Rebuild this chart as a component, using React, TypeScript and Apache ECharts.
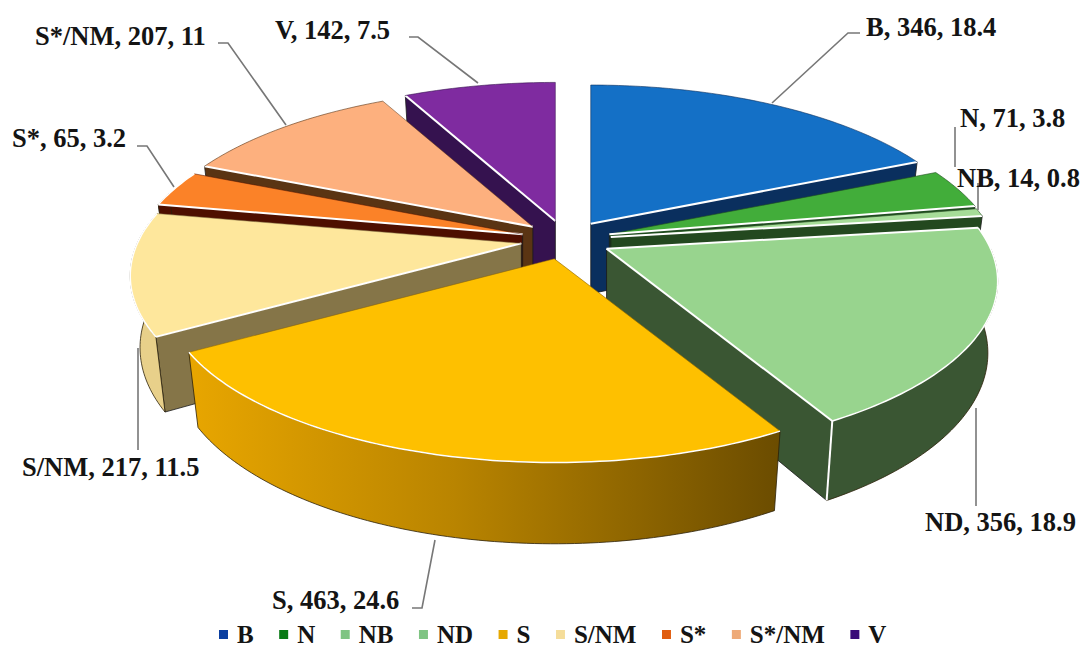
import React, { useEffect, useRef } from "react";
import * as echarts from "echarts";

const categories = ["B", "N", "NB", "ND", "S", "S/NM", "S*", "S*/NM", "V"];
const counts = [346, 71, 14, 356, 463, 217, 65, 207, 142];
const percents = ["18.4", "3.8", "0.8", "18.9", "24.6", "11.5", "3.2", "11", "7.5"];

const topColors = ["#1470c6", "#42ad3a", "#a6dc98", "#98d48e", "#fec000", "#fee79c", "#fb8228", "#fdb07e", "#7f2ba0"];
const wallColors = ["#0a2f5e", "#1f4d1f", "#23481f", "#3a5633", "#8a6200", "#857548", "#4e0f00", "#5a3413", "#35124f"];
const rimColors = ["#0a2f5e", "#1f4d1f", "#23481f", "#3a5633", "#8a6200", "#e8d08a", "#4e0f00", "#5a3413", "#35124f"];
const legendColors = ["#0b3fa0", "#0a7a16", "#7fc483", "#7fc483", "#e6a800", "#f5dd9a", "#e05d10", "#eeaa78", "#3a0a78"];
const paintOrder = [8, 0, 7, 1, 6, 2, 5, 3, 4];

const CX = 566, CY = 240, RX = 384, RY = 165, PERSP = 0.19, EXPLODE = 0.118;
const FONT = "bold 26.5px 'Liberation Serif'";

type P = [number, number];
const labelAnchors: P[] = [
  [866, 27], [960, 118], [957, 178], [925, 522], [272, 600], [22, 467], [12, 138], [35, 36], [275, 30],
];
const leaders: P[][] = [
  [[860, 33], [848, 33], [772, 103]],
  [[955, 127], [955, 167]],
  [[978, 183], [978, 210]],
  [[976, 408], [976, 506]],
  [[435, 540], [422, 608], [412, 608]],
  [[138, 348], [138, 450]],
  [[137, 146], [147, 146], [174, 187]],
  [[218, 43], [228, 43], [286, 125]],
  [[409, 37], [418, 37], [478, 83]],
];

const total = counts.reduce((a, b) => a + b, 0);
const rad = (d: number) => (d * Math.PI) / 180;

function sliceGroup(i: number) {
  let start = 0;
  for (let k = 0; k < i; k++) start += (counts[k] / total) * 360;
  const end = start + (counts[i] / total) * 360;
  const mid = rad((start + end) / 2);
  const ax = CX + EXPLODE * RX * Math.sin(mid);
  const ay = CY - EXPLODE * RY * Math.cos(mid);

  const top = (deg: number) => {
    const X = Math.sin(rad(deg));
    const Y = -Math.cos(rad(deg));
    const s = 1 / (1 - PERSP * Y);
    return { x: ax + X * RX * s, y: ay + Y * RY * s, s };
  };
  const low = (deg: number): P => {
    const t = top(deg);
    return [ax + (t.x - ax) * 0.975, t.y + 70 + 48 * (t.s - 1)];
  };
  const up = (deg: number): P => {
    const t = top(deg);
    return [t.x, t.y];
  };
  const arc = (a: number, b: number, fn: (d: number) => P) => {
    const pts: P[] = [];
    const n = Math.max(2, Math.ceil(b - a));
    for (let k = 0; k <= n; k++) pts.push(fn(a + ((b - a) * k) / n));
    return pts;
  };
  const apexLow: P = [ax, ay + 70];
  const children: any[] = [];

  const cut = (deg: number) => ({
    type: "polygon",
    shape: { points: [[ax, ay], up(deg), low(deg), apexLow] },
    style: { fill: wallColors[i], stroke: "#1a1a1a", lineWidth: 0.8 },
  });
  const startVisible = -Math.sin(rad(start)) > 0.001;
  const endVisible = Math.sin(rad(end)) > 0.001;
  if (startVisible) children.push(cut(start));
  if (endVisible) children.push(cut(end));

  const a0 = Math.max(start, 90);
  const b0 = Math.min(end, 285);
  if (b0 > a0) {
    const fill: any =
      categories[i] === "S"
        ? new echarts.graphic.LinearGradient(0, 0, 1, 0, [
            { offset: 0, color: "#e8a600" },
            { offset: 0.45, color: "#b98400" },
            { offset: 1, color: "#6b4c00" },
          ])
        : rimColors[i];
    children.push({
      type: "polygon",
      shape: { points: [...arc(a0, b0, up), ...arc(a0, b0, low).reverse()] },
      style: { fill, stroke: "#2b2008", lineWidth: 0.8 },
    });
  }
  if (categories[i] === "ND") {
    children.push({
      type: "polyline",
      shape: { points: [up(end), low(end)] },
      style: { fill: "none", stroke: "#ffffff", lineWidth: 2 },
    });
  }
  children.push({
    type: "polygon",
    shape: { points: [[ax, ay], ...arc(start, end, up)] },
    style: { fill: topColors[i] },
  });
  const edgeDark = wallColors[i];
  children.push({
    type: "polyline",
    shape: { points: [[ax, ay], up(start)] },
    style: { fill: "none", stroke: startVisible || i === 3 ? "#ffffff" : edgeDark, lineWidth: startVisible || i === 3 ? 2 : 1, opacity: startVisible || i === 3 ? 1 : 0.6 },
  });
  children.push({
    type: "polyline",
    shape: { points: [[ax, ay], up(end)] },
    style: { fill: "none", stroke: endVisible ? "#ffffff" : edgeDark, lineWidth: endVisible ? 2 : 1, opacity: endVisible ? 1 : 0.5 },
  });
  children.push({
    type: "polyline",
    shape: { points: arc(start, end, up) },
    style: { fill: "none", stroke: b0 > a0 ? "#ffffff" : edgeDark, lineWidth: b0 > a0 ? 1.5 : 1, opacity: b0 > a0 ? 1 : 0.6 },
  });
  return { type: "group", children };
}

export default function App() {
  const ref = useRef<HTMLDivElement>(null);
  useEffect(() => {
    document.body.style.margin = "0";
    const chart = echarts.init(ref.current!, undefined, { renderer: "svg" });
    const series = categories.map((name, i) => ({
      type: "custom",
      name,
      coordinateSystem: "none",
      silent: true,
      z: 2 + paintOrder.indexOf(i),
      itemStyle: { color: legendColors[i] },
      data: [counts[i]],
      renderItem: () => sliceGroup(i),
    }));
    const labels = categories.map((name, i) => ({
      type: "text",
      z: 50,
      x: labelAnchors[i][0],
      y: labelAnchors[i][1],
      style: {
        text: `${name}, ${counts[i]}, ${percents[i]}`,
        font: FONT,
        fill: "#141414",
        textAlign: "left",
        textVerticalAlign: "middle",
      },
    }));
    const lines = leaders.map((points) => ({
      type: "polyline",
      z: 40,
      shape: { points },
      style: { fill: "none", stroke: "#777777", lineWidth: 1.6 },
    }));
    chart.setOption({
      animation: false,
      backgroundColor: "#ffffff",
      tooltip: { show: false },
      legend: {
        data: categories,
        left: 219,
        top: 622,
        padding: 0,
        icon: "rect",
        itemWidth: 9,
        itemHeight: 9,
        itemGap: 25.5,
        selectedMode: false,
        textStyle: { fontFamily: "'Liberation Serif'", fontWeight: "bold", fontSize: 25, color: "#141414", padding: [0, 0, 0, 4] },
      },
      series,
      graphic: [...lines, ...labels],
    });
    return () => chart.dispose();
  }, []);
  return <div ref={ref} style={{ width: 1088, height: 648 }} />;
}
